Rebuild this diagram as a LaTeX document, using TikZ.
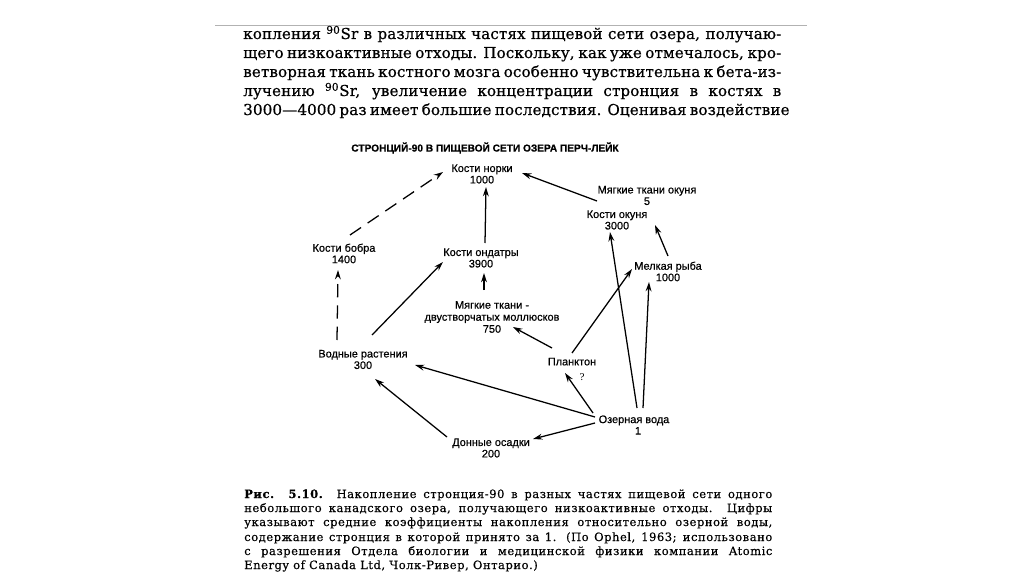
\documentclass[tikz,border=0pt]{standalone}
\usepackage{fontspec}
\setmainfont{DejaVu Serif}
\newfontfamily\hdrfont[LetterSpace=1,FakeBold=0.6]{DejaVu Serif}
\newfontfamily\capfont[LetterSpace=5,FakeBold=0.4]{DejaVu Serif}
\newfontfamily\lblfont[FakeBold=0.5]{Liberation Sans}
\usetikzlibrary{arrows.meta}
\newcommand{\hdrln}[2]{\node[anchor=base west,inner sep=0] at (243,#1) {\hdrfont\fontsize{11.3}{13}\selectfont\makebox[403.5pt][s]{#2}};}
\newcommand{\capln}[2]{\node[anchor=base west,inner sep=0] at (244,#1) {\capfont\fontsize{8.6}{10}\selectfont\makebox[396pt][s]{#2}};}
\begin{document}
\begin{tikzpicture}[x=0.75pt,y=-0.75pt,
  >={Stealth[length=7pt,width=4.4pt]},
  arr/.style={->, line width=0.95pt},
  dsh/.style={arr, dash pattern=on 10pt off 6pt},
  lbl/.style={font=\lblfont\fontsize{8.2}{8.6}\selectfont, align=center, inner sep=0}]
\fill[white] (0,0) rectangle (1024,574);
\useasboundingbox (0,0) rectangle (1024,574);
% top rule
\draw[gray!60, line width=0.75pt] (215,26) -- (807,26);
% header text
\hdrln{39}{копления \textsuperscript{90}Sr в различных частях пищевой сети озера, получаю-}
\hdrln{58}{щего низкоактивные отходы. Поскольку, как уже отмечалось, кро-}
\hdrln{77}{ветворная ткань костного мозга особенно чувствительна к бета-из-}
\hdrln{96}{лучению \textsuperscript{90}Sr, увеличение концентрации стронция в костях в}
\hdrln{115}{3000—4000 раз имеет большие последствия. Оценивая воздействие}
% title
\node[font=\lblfont\bfseries\fontsize{7.6}{8}\selectfont, inner sep=0] (title) at (485,148) {СТРОНЦИЙ-90 В ПИЩЕВОЙ СЕТИ ОЗЕРА ПЕРЧ-ЛЕЙК};
% nodes
\node[lbl] (norka) at (482,174) {Кости норки\\1000};
\node[lbl] (myagokun) at (647,195.5) {Мягкие ткани окуня\\5};
\node[lbl] (kostokun) at (617,220) {Кости окуня\\3000};
\node[lbl] (bobr) at (344,253.5) {Кости бобра\\1400};
\node[lbl] (ondatra) at (481,258) {Кости ондатры\\3900};
\node[lbl] (ryba) at (668,271.5) {Мелкая рыба\\1000};
\node[lbl, font=\lblfont\fontsize{8.2}{9}\selectfont] (moll) at (492,317) {Мягкие ткани -\\двустворчатых моллюсков\\750};
\node[lbl] (rast) at (363,359.5) {Водные растения\\300};
\node[lbl, font=\lblfont\fontsize{8.2}{11}\selectfont] (plankton) at (572,369) {Планктон\\\hspace*{15pt}{\rmfamily\fontsize{7}{8}\selectfont ?}};
\node[lbl] (voda) at (634,425) {Озерная вода\\\hspace*{6pt}1};
\node[lbl] (donnye) at (491,448) {Донные осадки\\200};
% connectors
\draw[dsh] ([shift={(6,-18.5)}]bobr.center) -- ([shift={(-39,-2)}]norka.center);
\draw[dsh] ([shift={(-26,-19.5)}]rast.center) -- ([shift={(-6,16.5)}]bobr.center);
\draw[arr] ([shift={(9,-24.5)}]rast.center) -- ([shift={(-38,4)}]ondatra.center);
\draw[arr] ([shift={(4,-15)}]ondatra.center) -- ([shift={(4,13)}]norka.center);
\draw[arr] ([shift={(-8,-27)}]moll.center) -- ([shift={(3,15)}]ondatra.center);
\draw[arr] ([shift={(-20,-19)}]kostokun.center) -- ([shift={(40,-1)}]norka.center);
\draw[arr] ([shift={(0,-15.5)}]ryba.center) -- ([shift={(8,29.5)}]myagokun.center);
\draw[arr] ([shift={(0,-16)}]plankton.center) -- ([shift={(-36,-2.5)}]ryba.center);
\draw[arr] ([shift={(-20,-21)}]plankton.center) -- ([shift={(21,10)}]moll.center);
\draw[arr] ([shift={(3,-17)}]voda.center) -- ([shift={(-7,12)}]kostokun.center);
\draw[arr] ([shift={(9,-17)}]voda.center) -- ([shift={(-19,10.5)}]ryba.center);
\draw[arr] ([shift={(-41,-12)}]voda.center) -- ([shift={(-7,4)}]plankton.center);
\draw[arr] ([shift={(-39,-8)}]voda.center) -- ([shift={(52,5.5)}]rast.center);
\draw[arr] ([shift={(-39,-2)}]voda.center) -- ([shift={(42,-9)}]donnye.center);
\draw[arr] ([shift={(-44,-11)}]donnye.center) -- ([shift={(12,19.5)}]rast.center);
% caption
\capln{498}{\textbf{Рис. 5.10.} Накопление стронция-90 в разных частях пищевой сети одного}
\capln{512}{небольшого канадского озера, получающего низкоактивные отходы. Цифры}
\capln{526}{указывают средние коэффициенты накопления относительно озерной воды,}
\capln{541}{содержание стронция в которой принято за 1. (По Ophel, 1963; использовано}
\capln{555}{с разрешения Отдела биологии и медицинской физики компании Atomic}
\node[anchor=base west,inner sep=0] (capend) at (244,569) {\capfont\fontsize{8.6}{10}\selectfont Energy of Canada Ltd, Чолк-Ривер, Онтарио.)};
\end{tikzpicture}
\end{document}
